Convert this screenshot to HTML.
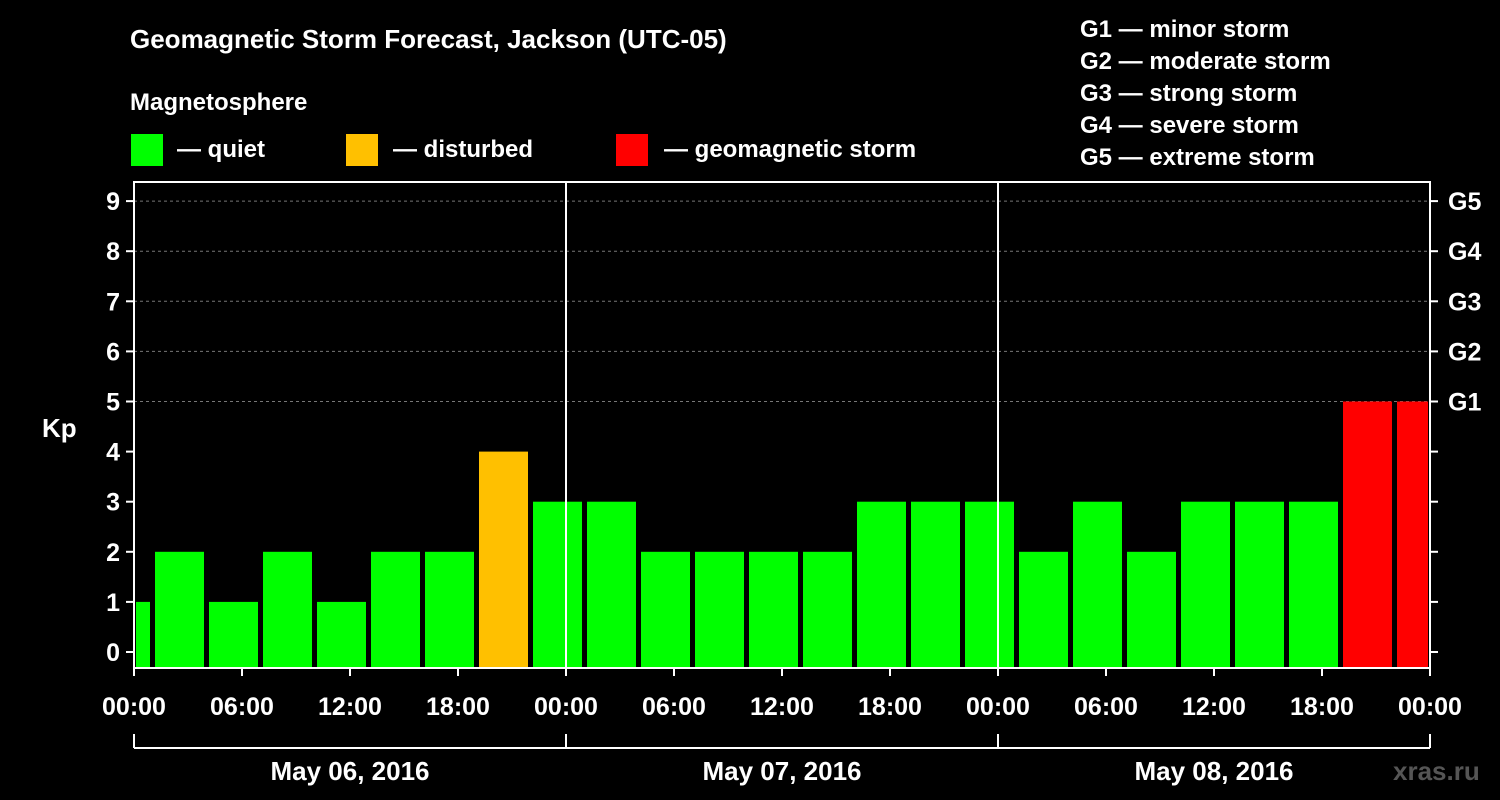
<!DOCTYPE html>
<html><head><meta charset="utf-8"><style>
body{margin:0;background:#000;}
svg{display:block;font-family:"Liberation Sans",Arial,sans-serif;font-weight:bold;}
</style></head><body>
<svg id="chart" width="1500" height="800" viewBox="0 0 1500 800">
<rect width="1500" height="800" fill="#000"/>
<text x="130" y="48" fill="#fff" font-size="26">Geomagnetic Storm Forecast, Jackson (UTC-05)</text>
<text x="130" y="110" fill="#fff" font-size="24">Magnetosphere</text>
<g><rect x="131" y="134" width="32" height="32" fill="#00ff00"/><text x="177" y="157" fill="#fff" font-size="24">— quiet</text></g>
<g><rect x="346" y="134" width="32" height="32" fill="#ffc000"/><text x="393" y="157" fill="#fff" font-size="24">— disturbed</text></g>
<g><rect x="616" y="134" width="32" height="32" fill="#ff0000"/><text x="664" y="157" fill="#fff" font-size="24">— geomagnetic storm</text></g>
<g fill="#fff" font-size="24">
<text x="1080" y="37">G1 — minor storm</text>
<text x="1080" y="69">G2 — moderate storm</text>
<text x="1080" y="101">G3 — strong storm</text>
<text x="1080" y="133">G4 — severe storm</text>
<text x="1080" y="165">G5 — extreme storm</text>
</g>
<text x="42" y="437" fill="#fff" font-size="26">Kp</text>
<text x="1393" y="780" fill="#555" font-size="26">xras.ru</text>
<g id="grid"></g><g id="bars"></g><g id="axes"></g>
</svg>
<script>
const values=[1,2,1,2,1,2,2,4,3,3,2,2,2,2,3,3,3,2,3,2,3,3,3,5,5];
const yTicks=[0,1,2,3,4,5,6,7,8,9];
const gLabels=["","","","","","G1","G2","G3","G4","G5"];
const xLabels=["00:00","06:00","12:00","18:00","00:00","06:00","12:00","18:00","00:00","06:00","12:00","18:00","00:00"];
const days=["May 06, 2016","May 07, 2016","May 08, 2016"];
const NS="http://www.w3.org/2000/svg";
const L=134,R=1430,T=182,B=668;
const y=v=>652-v*50.1;
const xh=h=>L+h*(R-L)/72; // hours from start
function mk(t,a,p){const e=document.createElementNS(NS,t);for(const k in a)e.setAttribute(k,a[k]);p.appendChild(e);return e;}
const grid=document.getElementById('grid'),bars=document.getElementById('bars'),axes=document.getElementById('axes');
yTicks.forEach(v=>{if(v>=5){const l=mk('line',{x1:L,x2:R,y1:y(v),y2:y(v),stroke:'#777','stroke-dasharray':'3,3'},grid);

}});
values.forEach((v,i)=>{
 let x0=xh(i*3-2)+3,x1=xh(i*3+1)-2;x0=Math.max(x0,L+2);x1=Math.min(x1,R-2);
 const c=v>=5?'#ff0000':(v>=4?'#ffc000':'#00ff00');
 const r=mk('rect',{x:x0,y:y(v),width:x1-x0,height:B-y(v),fill:c},bars);
 
 
});
mk('rect',{x:L,y:T,width:R-L,height:B-T,fill:'none',stroke:'#fff','stroke-width':2},axes);
[1,2].forEach(d=>{const l=mk('line',{x1:xh(d*24),x2:xh(d*24),y1:T,y2:B,stroke:'#fff','stroke-width':2},axes);

});
yTicks.forEach((v,i)=>{
 mk('line',{x1:L-8,x2:L,y1:y(v),y2:y(v),stroke:'#fff','stroke-width':2},axes);
 mk('line',{x1:R,x2:R+8,y1:y(v),y2:y(v),stroke:'#fff','stroke-width':2},axes);
 const t=mk('text',{x:L-14,y:y(v)+9,fill:'#fff','font-size':25,'text-anchor':'end'},axes);t.textContent=v;
 
 
 if(gLabels[i]){const g=mk('text',{x:R+18,y:y(v)+9,fill:'#fff','font-size':25},axes);g.textContent=gLabels[i];
 
 }
});
xLabels.forEach((s,i)=>{
 const x=xh(i*6);
 mk('line',{x1:x,x2:x,y1:B,y2:B+8,stroke:'#fff','stroke-width':2},axes);
 const t=mk('text',{x:x,y:715,fill:'#fff','font-size':25,'text-anchor':'middle'},axes);t.textContent=s;
 
 
});
mk('line',{x1:L,x2:R,y1:748,y2:748,stroke:'#fff','stroke-width':2},axes);
for(let d=0;d<=3;d++)mk('line',{x1:xh(d*24),x2:xh(d*24),y1:734,y2:748,stroke:'#fff','stroke-width':2},axes);
days.forEach((s,d)=>{const t=mk('text',{x:xh(d*24+12),y:780,fill:'#fff','font-size':26,'text-anchor':'middle'},axes);t.textContent=s;
 
 });
</script>
</body></html>
